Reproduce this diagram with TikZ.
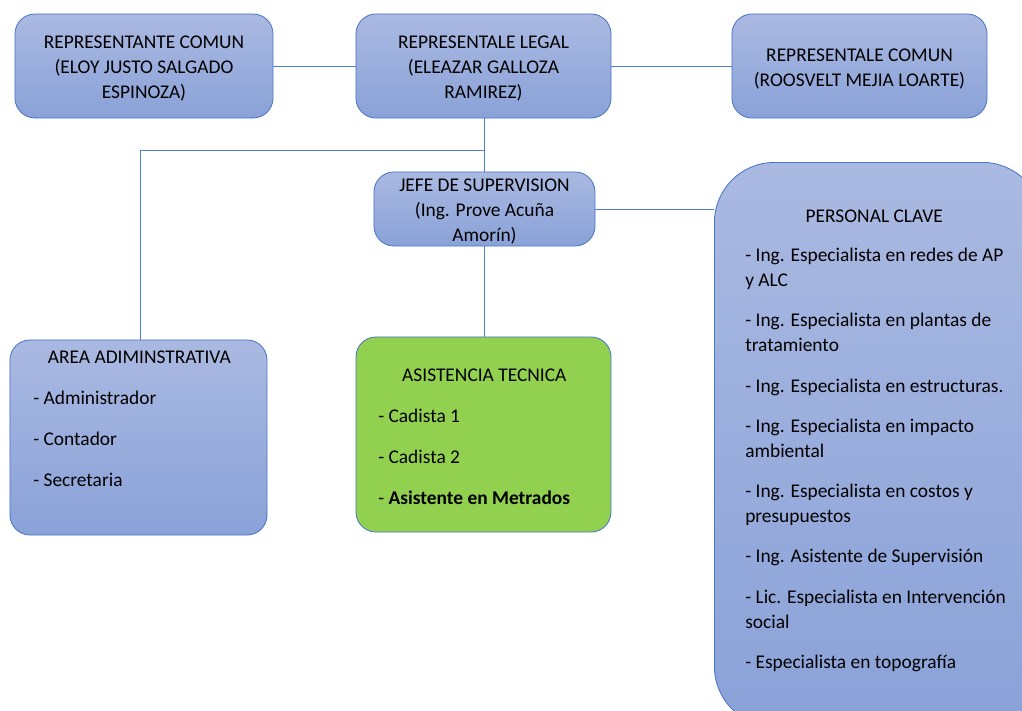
\documentclass[tikz,border=0pt]{standalone}
\usepackage{fontspec}
\setmainfont{Carlito}
\usepackage{xcolor}
\usetikzlibrary{positioning}
\definecolor{boxtop}{HTML}{AAB9E1}
\definecolor{boxbot}{HTML}{8AA2D8}
\definecolor{edgeblue}{HTML}{4A76C8}
\definecolor{linkblue}{HTML}{4F7FD0}
\definecolor{techgreen}{HTML}{92D050}
\newcommand{\toplift}{\rule{0pt}{13pt}}

\tikzset{
    bluebox/.style={draw=edgeblue, line width=0.6pt, rounded corners=0.5cm,
        top color=boxtop, bottom color=boxbot, inner sep=0pt},
    greenbox/.style={draw=edgeblue, line width=0.6pt, rounded corners=0.5cm,
        fill=techgreen, inner sep=0pt},
    link/.style={draw=linkblue, line width=0.7pt},
    txt/.style={font=\fontsize{13.8}{17.8}\selectfont, align=center}
}

\begin{document}
\begin{tikzpicture}[x=0.025cm, y=-0.025cm]
    \useasboundingbox (0, 0) rectangle (1022, 711);
    \clip (0, 0) rectangle (1022, 711);

    % top row
    \node[bluebox, txt, minimum width=6.45cm, minimum height=2.6cm] at (144, 66) (rc)
        {\toplift REPRESENTANTE COMUN\\(ELOY JUSTO SALGADO\\ESPINOZA)};
    \node[bluebox, txt, minimum width=6.375cm, minimum height=2.6cm] at (483.5, 66) (rl)
        {\toplift REPRESENTALE LEGAL\\(ELEAZAR GALLOZA\\RAMIREZ)};
    \node[bluebox, txt, minimum width=6.375cm, minimum height=2.6cm] at (859.5, 66) (rcr)
        {\toplift REPRESENTALE COMUN\\(ROOSVELT MEJIA LOARTE)};

    % middle
    \node[bluebox, txt, minimum width=5.525cm, minimum height=1.85cm] at (484.5, 209) (jefe)
        {\toplift JEFE DE SUPERVISION\\(Ing. Prove Acuña\\Amorín)};

    % bottom boxes
    \node[bluebox, minimum width=6.425cm, minimum height=4.875cm] at (138.5, 437.5) (area) {};
    \node[txt, align=left, anchor=north west, inner sep=0pt] at (33, 351) (areatxt)
        {\makebox[5.3cm]{AREA ADIMINSTRATIVA}\\[0.4cm]
         - Administrador\\[0.4cm]
         - Contador\\[0.4cm]
         - Secretaria};

    \node[greenbox, minimum width=6.375cm, minimum height=4.875cm] at (483.5, 434.5) (asist) {};
    \node[txt, align=left, anchor=north west, inner sep=0pt] at (378, 369) (asisttxt)
        {\makebox[5.3cm]{ASISTENCIA TECNICA}\\[0.4cm]
         - Cadista 1\\[0.4cm]
         - Cadista 2\\[0.4cm]
         - \textbf{Asistente en Metrados}};

    \node[bluebox, rounded corners=1.5cm, minimum width=8.2cm, minimum height=14.1cm,
        anchor=north west] at (714, 162) (clave) {};
    \node[txt, align=left, anchor=north west, inner sep=0pt] at (745, 210) (clavetxt)
        {\makebox[6.45cm]{PERSONAL CLAVE}\\[0.34cm]
         - Ing. Especialista en redes de AP\\
         y ALC\\[0.38cm]
         - Ing. Especialista en plantas de\\
         tratamiento\\[0.38cm]
         - Ing. Especialista en estructuras.\\[0.38cm]
         - Ing. Especialista en impacto\\
         ambiental\\[0.38cm]
         - Ing. Especialista en costos y\\
         presupuestos\\[0.38cm]
         - Ing. Asistente de Supervisión\\[0.38cm]
         - Lic. Especialista en Intervención\\
         social\\[0.38cm]
         - Especialista en topografía};

    % connectors
    \coordinate (split) at (484.5, 150);
    \coordinate (corner) at (140, 150);
    \draw[link] (rc) -- (rl);
    \draw[link] (rl) -- (rcr);
    \draw[link] (rl.south -| split) -- (jefe.north -| split);
    \draw[link] (corner) -- (split);
    \draw[link] (corner) -- (corner |- area.north);
    \draw[link] (jefe.south -| split) -- (asist.north -| split);
    \draw[link] (jefe.east) -- (jefe.east -| clave.west);
\end{tikzpicture}
\end{document}
